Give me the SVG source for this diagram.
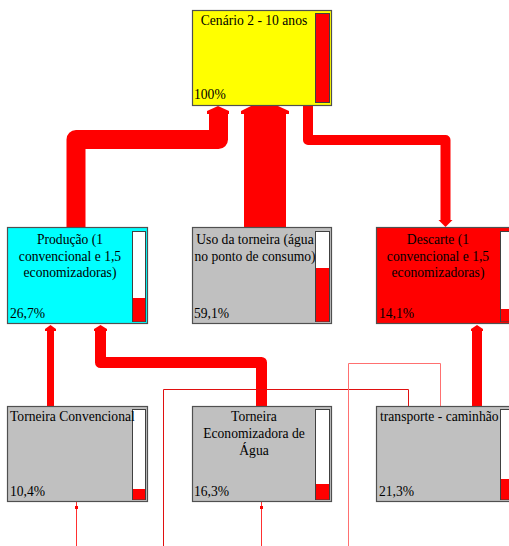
<svg xmlns="http://www.w3.org/2000/svg" width="509" height="546" viewBox="0 0 509 546">
<style>
.box{stroke:#505050;stroke-width:1.2}
.bar{fill:#fff;stroke:#404040;stroke-width:1}
.lvl{fill:#ff0000}
.t{font-family:"Liberation Serif","Times New Roman",serif;font-size:13.6px;fill:#000}
.c{text-anchor:middle}
.flow{fill:none;stroke:#ff0000;stroke-linejoin:round}
.ah{fill:#ff0000}
</style>
<rect width="509" height="546" fill="#fff"/>
<g id="connectors">
  <path class="flow" d="M76,228 V139.5 H218.5 V113" stroke-width="19"/>
  <polygon class="ah" points="207,114 207,111 218,106 229,111 229,114"/>
  <rect x="244" y="113" width="42" height="115" fill="#ff0000"/>
  <polygon class="ah" points="241,114 241,111 251,106 278,106 289,111 289,114"/>
  <path class="flow" d="M308,106 V140 H445.5 V221" stroke-width="10"/>
  <polygon class="ah" points="438.5,220 452.5,220 445.5,227"/>
  <path class="flow" d="M50.5,406 V330" stroke-width="7"/>
  <polygon class="ah" points="45,331 45,329 50.5,325 56,329 56,331"/>
  <path class="flow" d="M261.5,406 V362.5 H100.5 V330" stroke-width="11"/>
  <polygon class="ah" points="94,331 94,329 100.5,325 107,329 107,331"/>
  <path class="flow" d="M477,406 V330" stroke-width="10"/>
  <polygon class="ah" points="471,331 471,329 477,325 483,329 483,331"/>
  <path d="M163.5,546 V389.5 H408.5 V406" fill="none" stroke="#e01010" stroke-width="1"/>
  <path d="M348.5,546 V363.5 H440.5 V406" fill="none" stroke="#ff7070" stroke-width="1"/>
  <path d="M76.5,502 V546" fill="none" stroke="#ff3030" stroke-width="1"/>
  <rect x="75" y="506" width="3" height="3" fill="#ff0000"/>
  <path d="M261.5,502 V546" fill="none" stroke="#ff3030" stroke-width="1"/>
  <rect x="260" y="506" width="3" height="3" fill="#ff0000"/>
</g>
<g id="cenario">
  <rect class="box" x="192.5" y="10.5" width="139" height="95" fill="#ffff00"/>
  <rect class="bar" x="315.5" y="13.5" width="14" height="89" style="fill:#ff0000"/>
  <text class="t c" x="254" y="25">Cenário 2 - 10 anos</text>
  <text class="t" x="194" y="99">100%</text>
</g>
<g id="producao">
  <rect class="box" x="7.5" y="227.5" width="140" height="96" fill="#00ffff"/>
  <rect class="bar" x="132.5" y="231.5" width="13" height="90"/>
  <rect class="lvl" x="133" y="298" width="12" height="23.5"/>
  <text class="t c" x="70" y="244">Produção (1</text>
  <text class="t c" x="70" y="261">convencional e 1,5</text>
  <text class="t c" x="70" y="277">economizadoras)</text>
  <text class="t" x="10" y="318">26,7%</text>
</g>
<g id="uso">
  <rect class="box" x="192.5" y="227.5" width="139" height="96" fill="#c0c0c0"/>
  <rect class="bar" x="315.5" y="231.5" width="14" height="90"/>
  <rect class="lvl" x="316" y="268" width="13" height="53.5"/>
  <text class="t c" x="255" y="244">Uso da torneira (água</text>
  <text class="t c" x="255" y="261">no ponto de consumo)</text>
  <text class="t" x="194" y="318">59,1%</text>
</g>
<g id="descarte">
  <rect class="box" x="376.5" y="227.5" width="140" height="96" fill="#ff0000"/>
  <rect class="bar" x="500.5" y="231.5" width="14" height="90"/>
  <rect class="lvl" x="501" y="309" width="13" height="12.5"/>
  <text class="t c" x="438" y="244">Descarte (1</text>
  <text class="t c" x="438" y="261">convencional e 1,5</text>
  <text class="t c" x="438" y="277">economizadoras)</text>
  <text class="t" x="379" y="318">14,1%</text>
</g>
<g id="torneira-convencional">
  <rect class="box" x="7.5" y="406.5" width="140" height="95" fill="#c0c0c0"/>
  <rect class="bar" x="132.5" y="409.5" width="13" height="90"/>
  <rect class="lvl" x="133" y="489" width="12" height="10.5"/>
  <text class="t" x="10" y="421">Torneira Convencional</text>
  <text class="t" x="10" y="496">10,4%</text>
</g>
<g id="torneira-economizadora">
  <rect class="box" x="192.5" y="406.5" width="139" height="95" fill="#c0c0c0"/>
  <rect class="bar" x="315.5" y="409.5" width="14" height="90"/>
  <rect class="lvl" x="316" y="484" width="13" height="15.5"/>
  <text class="t c" x="254" y="421">Torneira</text>
  <text class="t c" x="254" y="438">Economizadora de</text>
  <text class="t c" x="254" y="455">Água</text>
  <text class="t" x="194" y="496">16,3%</text>
</g>
<g id="transporte">
  <rect class="box" x="376.5" y="406.5" width="140" height="95" fill="#c0c0c0"/>
  <rect class="bar" x="500.5" y="409.5" width="14" height="90"/>
  <rect class="lvl" x="501" y="479" width="13" height="20.5"/>
  <text class="t" x="380" y="421">transporte - caminhão</text>
  <text class="t" x="379" y="496">21,3%</text>
</g>
</svg>
